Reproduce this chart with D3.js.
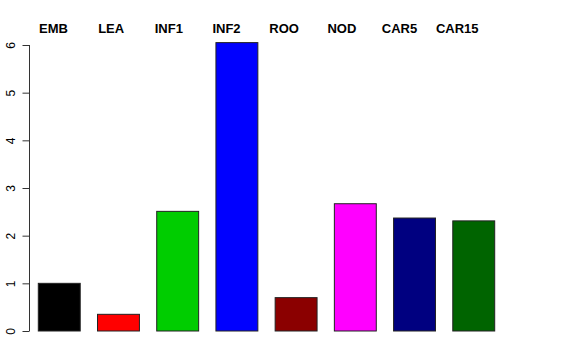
<!DOCTYPE html>
<html><head><meta charset="utf-8">
<script src="https://cdn.jsdelivr.net/npm/d3@7"></script>
<style>body{margin:0;background:#fff}svg{display:block}</style>
</head><body>
<script>
const categories = ["EMB","LEA","INF1","INF2","ROO","NOD","CAR5","CAR15"];
const values = [1.00, 0.35, 2.51, 6.05, 0.70, 2.67, 2.37, 2.31];
const colors = ["#000000","#FF0000","#00CD00","#0000FF","#8B0000","#FF00FF","#000080","#006400"];
const yTicks = [0,1,2,3,4,5,6];

const W = 576, H = 360;
const svg = d3.select("body").append("svg").attr("width", W).attr("height", H);

const x = d3.scaleBand().domain(categories).range([29, 504])
  .paddingInner(0.292).paddingOuter(0.157);
const y = d3.scaleLinear().domain([0, 6]).range([331, 45]);
const xl = d3.scalePoint().domain(categories).range([53.5, 457.2]);

svg.selectAll("rect.bar").data(categories).enter().append("rect")
  .attr("class","bar")
  .attr("x", d => x(d))
  .attr("width", x.bandwidth())
  .attr("y", (d,i) => y(values[i]))
  .attr("height", (d,i) => y(0) - y(values[i]))
  .attr("fill", (d,i) => colors[i])
  .attr("stroke", "#222").attr("stroke-width", 1);

const ax = svg.append("g").attr("transform","translate(29.5,0)")
  .call(d3.axisLeft(y).tickValues(yTicks).tickSize(7).tickPadding(3).tickFormat(d3.format("d")));
ax.select(".domain").attr("stroke","#333").attr("d", `M0,${y(0)}V${y(6)}`);
ax.selectAll(".tick line").attr("stroke","#333");
ax.selectAll(".tick text")
  .attr("font-family","Liberation Sans, Arial, sans-serif")
  .attr("font-size",12).attr("fill","#000")
  .attr("transform","rotate(-90)")
  .attr("x",0).attr("y",-14.5).attr("dy",0)
  .attr("text-anchor","middle");

svg.selectAll("text.lab").data(categories).enter().append("text")
  .attr("class","lab")
  .attr("x", d => xl(d)).attr("y", 33)
  .attr("text-anchor","middle")
  .attr("font-family","Liberation Sans, Arial, sans-serif")
  .attr("font-weight","bold").attr("font-size",13)
  .text(d => d);
</script>
</body></html>
